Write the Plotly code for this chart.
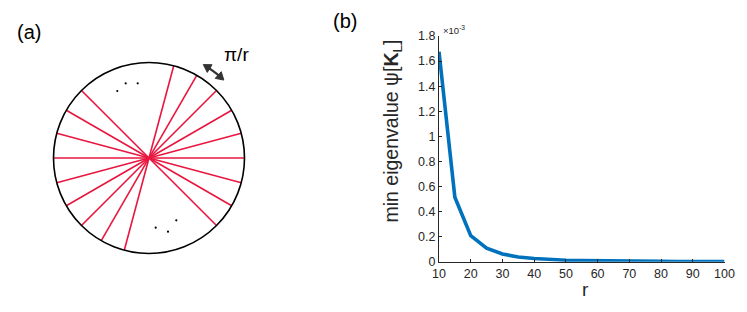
import numpy as np
import plotly.graph_objects as go

# ---------------- data ----------------
r_values = [10, 15, 20, 25, 30, 35, 40, 45, 50, 55, 60, 65, 70, 75, 80, 85, 90, 95, 100]
min_eig_e3 = [1.675, 0.514, 0.207, 0.107, 0.061, 0.038, 0.025, 0.017, 0.012, 0.0087,
              0.0064, 0.0049, 0.0038, 0.0030, 0.0024, 0.0020, 0.0016, 0.0013, 0.0011]
x_ticks = [10, 20, 30, 40, 50, 60, 70, 80, 90, 100]
y_ticks = [0, 0.2, 0.4, 0.6, 0.8, 1.0, 1.2, 1.4, 1.6, 1.8]
y_tick_labels = ["0", "0.2", "0.4", "0.6", "0.8", "1", "1.2", "1.4", "1.6", "1.8"]
# diameters of the sketch in panel (a), degrees
spoke_angles_deg = [-45, -30, -15, 0, 15, 30, 45, 60, 75]

W, H = 747, 312
FONT = "Liberation Sans, Arial, Helvetica, sans-serif"
DARK = "#262626"

# panel (a) geometry in pixel units (overlay axes x2/y2)
cx, cy, R = 149, 158, 95.5

fig = go.Figure()

# spokes
sx, sy = [], []
for a in spoke_angles_deg:
    t = np.deg2rad(a)
    dx, dy = R * np.cos(t), R * np.sin(t)
    sx += [cx - dx, cx + dx, None]
    sy += [cy + dy, cy - dy, None]
fig.add_trace(go.Scatter(x=sx, y=sy, mode="lines", xaxis="x2", yaxis="y2",
                         line=dict(color="#E8173F", width=1.6), hoverinfo="skip",
                         showlegend=False))

# ellipsis dots
dots_x = [117.3, 125.7, 137.7, 155.7, 168.0, 176.3]
dots_y = [91.0, 83.3, 83.3, 227.7, 231.7, 220.3]
fig.add_trace(go.Scatter(x=dots_x, y=dots_y, mode="markers", xaxis="x2", yaxis="y2",
                         marker=dict(color="black", size=2.2), hoverinfo="skip",
                         showlegend=False))

# main curve
fig.add_trace(go.Scatter(x=r_values, y=min_eig_e3, mode="lines",
                         line=dict(color="#0072BD", width=3.6), showlegend=False))

shapes = [dict(type="circle", xref="x2", yref="y2",
               x0=cx - R, x1=cx + R, y0=cy - R, y1=cy + R,
               line=dict(color="black", width=1.6), layer="above")]

# curved double arrow (pi/r)
ra = 108
angs = np.deg2rad(np.linspace(47.5, 58.5, 12))
ax_ = cx + ra * np.cos(angs)
ay_ = cy - ra * np.sin(angs)
path = "M " + " L ".join(f"{x:.2f},{y:.2f}" for x, y in zip(ax_, ay_))
shapes.append(dict(type="path", path=path, xref="x2", yref="y2",
                   line=dict(color="#333333", width=2.2)))
# arrowheads
for end, prev in ((0, 1), (len(angs) - 1, len(angs) - 2)):
    px, py = ax_[end], ay_[end]
    dx, dy = px - ax_[prev], py - ay_[prev]
    n = np.hypot(dx, dy)
    dx, dy = dx / n, dy / n
    tipx, tipy = px + dx * 2.5, py + dy * 2.5
    L, w = 7.5, 4.5
    bx, by = tipx - dx * L, tipy - dy * L
    p1 = (bx - dy * w, by + dx * w)
    p2 = (bx + dy * w, by - dx * w)
    shapes.append(dict(type="path", xref="x2", yref="y2",
                       path=f"M {tipx:.2f},{tipy:.2f} L {p1[0]:.2f},{p1[1]:.2f} "
                            f"L {p2[0]:.2f},{p2[1]:.2f} Z",
                       fillcolor="#333333", line=dict(color="#333333", width=1)))

annotations = [
    dict(text="π/r", x=236, y=54, xref="x2", yref="y2", showarrow=False,
         font=dict(family=FONT, size=19, color="black")),
    dict(text="(a)", x=29, y=32, xref="x2", yref="y2", showarrow=False,
         font=dict(family=FONT, size=20, color="black")),
    dict(text="(b)", x=345, y=21, xref="x2", yref="y2", showarrow=False,
         font=dict(family=FONT, size=20, color="black")),
    dict(text="×10<sup>-3</sup>", x=441, y=30, xref="x2", yref="y2", showarrow=False,
         xanchor="left", font=dict(family=FONT, size=9.5, color=DARK)),
    dict(text="min eigenvalue ψ[<b>K</b><sub>L</sub>]", x=392, y=131.5, xref="x2", yref="y2",
         textangle=-90, showarrow=False,
         font=dict(family=FONT, size=19.5, color=DARK)),
    dict(text="r", x=585, y=289, xref="x2", yref="y2", showarrow=False,
         font=dict(family=FONT, size=19, color=DARK)),
]

fig.update_layout(
    width=W, height=H, autosize=False,
    margin=dict(l=0, r=0, t=0, b=0, autoexpand=False),
    paper_bgcolor="white", plot_bgcolor="rgba(0,0,0,0)",
    showlegend=False,
    shapes=shapes, annotations=annotations,
    xaxis=dict(domain=[439 / W, 724.5 / W], range=[10, 100],
               tickvals=x_ticks, ticks="inside", ticklen=3, tickcolor=DARK,
               showline=True, linecolor=DARK, linewidth=1, showgrid=False, zeroline=False,
               tickfont=dict(family=FONT, size=12.5, color=DARK)),
    yaxis=dict(domain=[1 - 261.7 / H, 1 - 36 / H], range=[0, 1.8],
               tickvals=y_ticks, ticktext=y_tick_labels, ticks="inside", ticklen=3,
               tickcolor=DARK, showline=True, linecolor=DARK, linewidth=1,
               showgrid=False, zeroline=False,
               tickfont=dict(family=FONT, size=12.5, color=DARK)),
    xaxis2=dict(domain=[0, 1], range=[0, W], visible=False, fixedrange=True, anchor="y2"),
    yaxis2=dict(domain=[0, 1], range=[H, 0], visible=False, fixedrange=True, anchor="x2"),
)

fig.write_html("out.html", config={"responsive": False, "displayModeBar": False},
               post_script="document.body.style.margin='0';"
                           "document.documentElement.style.overflow='hidden';")
